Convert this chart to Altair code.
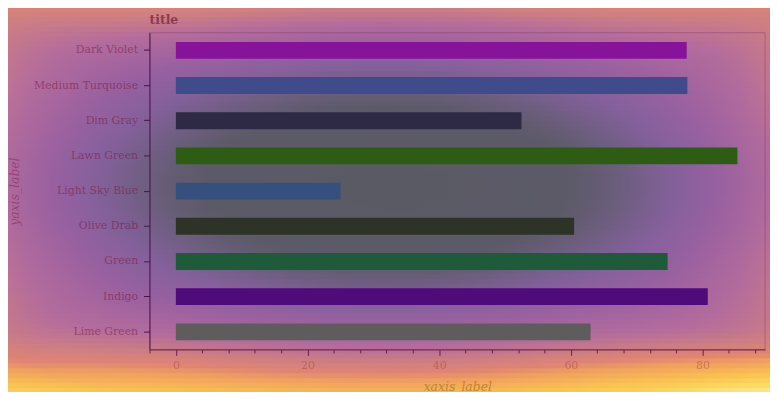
import altair as alt
import pandas as pd
import numpy as np

# ---- data ----
categories = ["Dark Violet", "Medium Turquoise", "Dim Gray", "Lawn Green",
              "Light Sky Blue", "Olive Drab", "Green", "Indigo", "Lime Green"]
values = [77.6, 77.7, 52.5, 85.3, 25.0, 60.5, 74.7, 80.8, 63.0]
bar_colors = ["#87139b", "#3f4b8a", "#2e2a46", "#2f5c14", "#35507c",
              "#2d3326", "#1f5b3a", "#4f0b7a", "#5f5c5e"]
x_tick_values = list(range(-4, 89, 4))
x_domain = [-4, 89.5]

W, H = 622, 320
OX, OY = 151, 31          # page position of the plot origin
PAGE_W, PAGE_H = 778, 400
FONT = "DejaVu Serif"

df = pd.DataFrame({"label": categories, "value": values, "color": bar_colors})
one = pd.DataFrame({"a": [0]})

# ---- decorative vignette background (style only) ----
pal_pos = [0.0, 0.30, 0.40, 0.50, 0.60, 0.72, 0.81, 0.86, 0.91, 1.00, 1.10, 1.22]
pal_col = ["#5a5a64", "#5c5a68", "#6e5e80", "#84609c", "#9a60a0", "#b46c9c",
           "#d08080", "#e08474", "#f0a060", "#f8c050", "#fcd860", "#fff0a0"]
pal_rgb = np.array([[int(c[i:i + 2], 16) for i in (1, 3, 5)] for c in pal_col], float)


def pal(d):
    return "#" + "".join("%02x" % int(round(np.interp(d, pal_pos, pal_rgb[:, k])))
                         for k in range(3))


cx, cy, Rx, Ry = 390.0, 185.0, 520.0, 215.0


def field(x, y):
    u = (x - cx) / Rx
    v = (y - cy) / Ry
    d2 = np.hypot(u, v)
    d8 = (u ** 8 + v ** 8) ** 0.125
    t = np.clip((d2 - 0.5) / 0.6, 0, 1)
    d = ((1 - t) * d2 + t * d8) ** 1.2
    g = (np.clip((y - 330) / 70.0, 0, 1) ** 1.5
         * (0.22 if x > cx else 0.09) * np.clip(abs(x - cx) / 350.0, 0, 1) ** 2)
    return d + g


STRIP = 5
xs = np.linspace(0, PAGE_W, 31)
layers = []
for y0 in range(0, PAGE_H, STRIP):
    ym = y0 + STRIP / 2
    grad = {
        "gradient": "linear", "x1": 0, "y1": 0, "x2": 1, "y2": 0,
        "stops": [{"offset": float(x / PAGE_W), "color": pal(field(x, ym))} for x in xs],
    }
    layers.append(
        alt.Chart(one).mark_rect(fill=grad, strokeWidth=0).encode(
            x=alt.value(-OX), x2=alt.value(PAGE_W - OX),
            y=alt.value(y0 - OY), y2=alt.value(min(y0 + STRIP + 1, PAGE_H) - OY),
        )
    )

bars = alt.Chart(df).mark_bar().encode(
    x=alt.X(
        "value:Q",
        scale=alt.Scale(domain=x_domain, nice=False, zero=False),
        axis=alt.Axis(
            title="xaxis_label",
            values=x_tick_values,
            labelExpr="datum.value % 20 === 0 ? datum.label : ''",
            grid=False,
            domainColor="#6e1a44", domainWidth=1,
            tickColor="#6e1a44", tickWidth=1,
            tickSize={"condition": {"test": "datum.value % 20 === 0", "value": 6}, "value": 3.5},
            labelFont=FONT, labelFontSize=11, labelColor="#8a2a30", labelOpacity=0.38,
            labelPadding=4,
            titleFont=FONT, titleFontSize=12.5, titleFontStyle="italic",
            titleFontWeight="normal", titleColor="#c08432", titlePadding=10,
            zindex=1,
        ),
    ),
    y=alt.Y(
        "label:N",
        sort=categories,
        scale=alt.Scale(paddingInner=0.52, paddingOuter=0.26),
        axis=alt.Axis(
            title="yaxis_label",
            grid=False,
            domainColor="#4a1248", domainWidth=1,
            tickColor="#4a1248", tickSize=6, tickWidth=1,
            labelFont=FONT, labelFontSize=11, labelColor="#78143c", labelOpacity=0.55,
            labelPadding=6,
            titleFont=FONT, titleFontSize=12.5, titleFontStyle="italic",
            titleFontWeight="normal", titleColor="#78143c", titleOpacity=0.45,
            titlePadding=12,
            zindex=1,
        ),
    ),
    color=alt.Color("color:N", scale=None, legend=None),
)

frame = alt.Chart(one).mark_rect(
    fillOpacity=0, stroke="#8a3a6a", strokeOpacity=0.45, strokeWidth=1
).encode(x=alt.value(0), x2=alt.value(W), y=alt.value(0), y2=alt.value(H))

chart = alt.layer(*layers, bars, frame).properties(
    width=W,
    height=H,
    title=alt.TitleParams(
        "title", anchor="start", frame="group", font=FONT, fontSize=12.5,
        fontWeight="bold", color="#8a3a52", offset=-25,
    ),
    autosize=alt.AutoSizeParams(type="none"),
    padding={"left": 143, "top": 23, "right": 5, "bottom": 41},
).configure_view(strokeWidth=0)

chart.save("out.html", embed_options={"renderer": "svg", "actions": False})
